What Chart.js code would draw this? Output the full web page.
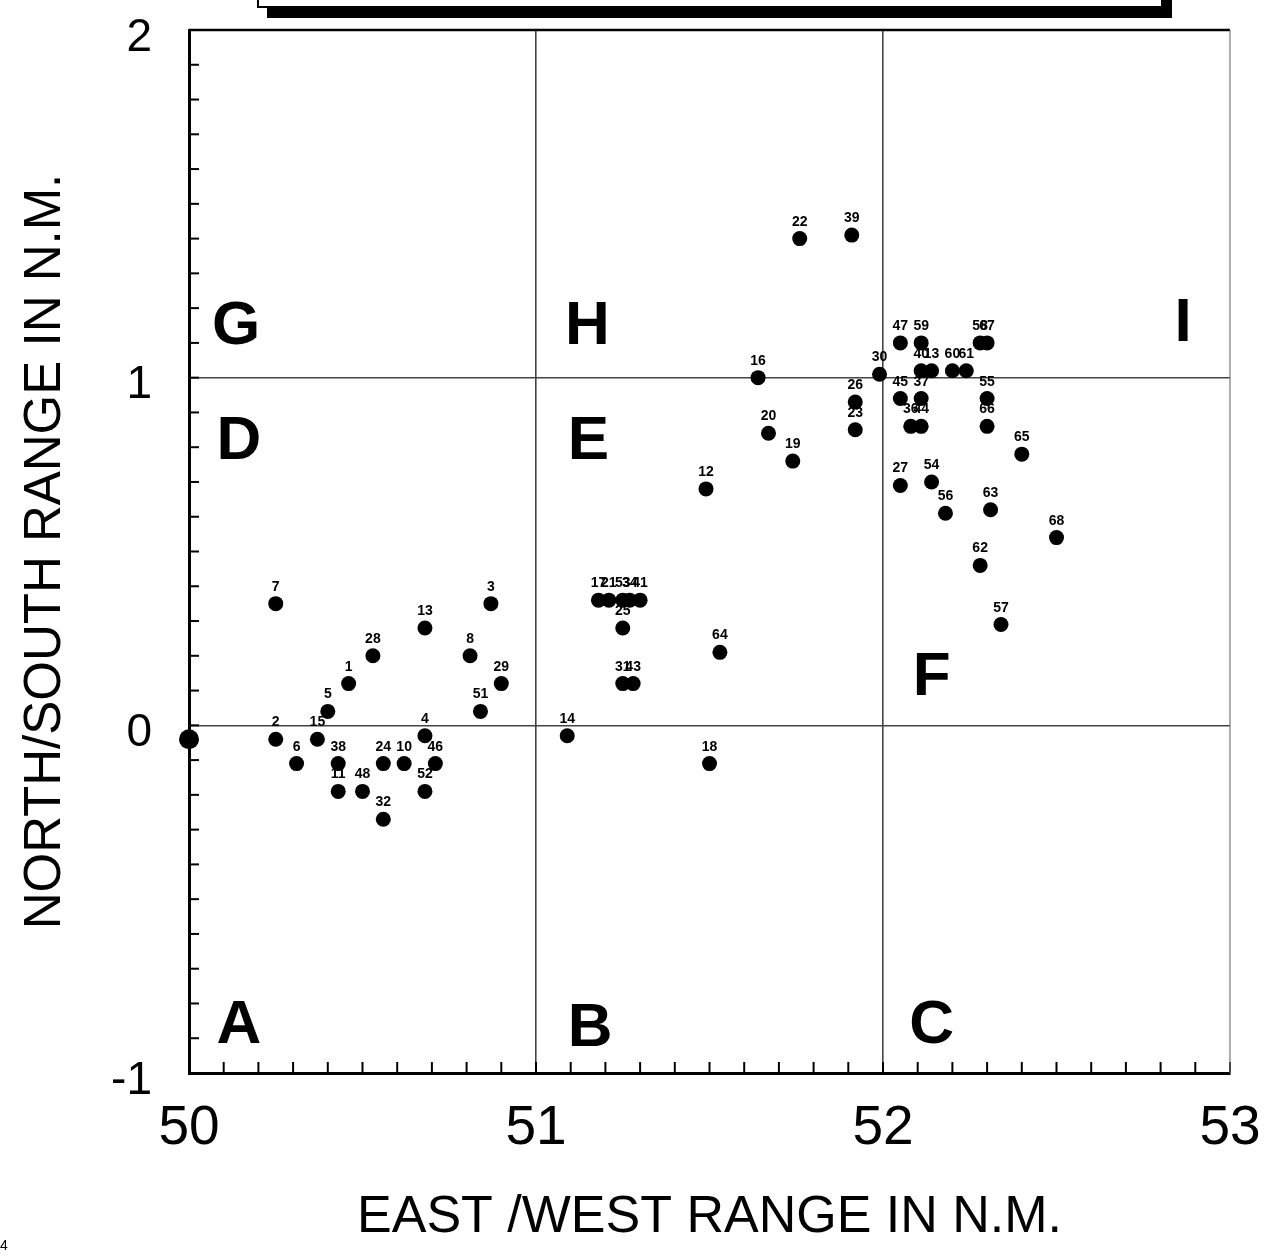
<!DOCTYPE html>
<html>
<head>
<meta charset="utf-8">
<script src="https://cdn.jsdelivr.net/npm/chart.js@4/dist/chart.umd.min.js"></script>
<style>
html,body{margin:0;padding:0;background:#fff;}
canvas{display:block;}
</style>
</head>
<body>
<canvas id="c" width="1272" height="1257"></canvas>
<script>
// ---- data ----
const runLabels = ['7','2','6','15','5','1','28','38','11','48','24','32','10','13','4','52','46','8','51','3','29','14','18','17','21','53','34','41','25','31','43','64','12','22','39','16','30','26','23','20','19','47','59','40','13','60','61','58','67','45','37','36','44','55','66','65','27','54','56','63','68','62','57'];
const eastWest = [50.25,50.25,50.31,50.37,50.40,50.46,50.53,50.43,50.43,50.50,50.56,50.56,50.62,50.68,50.68,50.68,50.71,50.81,50.84,50.87,50.90,51.09,51.50,51.18,51.21,51.25,51.27,51.30,51.25,51.25,51.28,51.53,51.49,51.76,51.91,51.64,51.99,51.92,51.92,51.67,51.74,52.05,52.11,52.11,52.14,52.20,52.24,52.28,52.30,52.05,52.11,52.08,52.11,52.30,52.30,52.40,52.05,52.14,52.18,52.31,52.50,52.28,52.34];
const northSouth = [0.35,-0.04,-0.11,-0.04,0.04,0.12,0.20,-0.11,-0.19,-0.19,-0.11,-0.27,-0.11,0.28,-0.03,-0.19,-0.11,0.20,0.04,0.35,0.12,-0.03,-0.11,0.36,0.36,0.36,0.36,0.36,0.28,0.12,0.12,0.21,0.68,1.40,1.41,1.00,1.01,0.93,0.85,0.84,0.76,1.10,1.10,1.02,1.02,1.02,1.02,1.10,1.10,0.94,0.94,0.86,0.86,0.94,0.86,0.78,0.69,0.70,0.61,0.62,0.54,0.46,0.29];
const refEastWest = [50.0];
const refNorthSouth = [-0.04];
const regionLetters = ['G','H','I','D','E','F','A','B','C'];
const regionX = [50.136,51.148,52.865,50.144,51.151,52.14,50.144,51.156,52.14];
const regionY = [1.16,1.16,1.17,0.83,0.83,0.15,-0.85,-0.86,-0.85];
const xTickLabels = ['50','51','52','53'];
const yTickLabels = ['-1','0','1','2'];
const xTitle = 'EAST /WEST RANGE IN N.M.';
const yTitle = 'NORTH/SOUTH RANGE IN N.M.';

const runPoints = eastWest.map((v,i)=>({x:v, y:northSouth[i]}));
const refPoints = refEastWest.map((v,i)=>({x:v, y:refNorthSouth[i]}));

const isInt = v => Math.abs(v - Math.round(v)) < 1e-6;
const FONT = "'Liberation Sans', Arial, sans-serif";

const decor = {
  id: 'decor',
  beforeDraw(chart){
    const ctx = chart.ctx;
    ctx.save();
    ctx.fillStyle = '#fff';
    ctx.fillRect(0,0,chart.width,chart.height);
    ctx.restore();
  },
  beforeDatasetsDraw(chart){
    const {ctx, chartArea:a, scales:{x,y}} = chart;
    ctx.save();
    // region letters
    ctx.fillStyle = '#000';
    ctx.font = "bold 62px " + FONT;
    ctx.textAlign = 'center';
    ctx.textBaseline = 'alphabetic';
    regionLetters.forEach((t,i)=>{
      ctx.fillText(t, x.getPixelForValue(regionX[i]), y.getPixelForValue(regionY[i]) + 22);
    });
    // inner tick marks
    ctx.strokeStyle = '#000';
    ctx.lineWidth = 2;
    x.ticks.forEach(tk=>{
      const px = x.getPixelForValue(tk.value);
      ctx.beginPath(); ctx.moveTo(px, a.bottom); ctx.lineTo(px, a.bottom - 11); ctx.stroke();
    });
    y.ticks.forEach(tk=>{
      const py = y.getPixelForValue(tk.value);
      ctx.beginPath(); ctx.moveTo(a.left, py); ctx.lineTo(a.left + 10, py); ctx.stroke();
    });
    // top and right frame
    ctx.lineWidth = 2.5;
    ctx.beginPath(); ctx.moveTo(a.left, a.top); ctx.lineTo(a.right, a.top); ctx.stroke();
    ctx.lineWidth = 1.2;
    ctx.strokeStyle = '#777';
    ctx.beginPath(); ctx.moveTo(a.right, a.top); ctx.lineTo(a.right, a.bottom); ctx.stroke();
    ctx.restore();
  },
  afterDatasetsDraw(chart){
    const {ctx, scales:{x,y}} = chart;
    ctx.save();
    ctx.fillStyle = '#000';
    ctx.font = "bold 14px " + FONT;
    ctx.textAlign = 'center';
    ctx.textBaseline = 'alphabetic';
    runPoints.forEach((p,i)=>{
      ctx.fillText(runLabels[i], x.getPixelForValue(p.x), y.getPixelForValue(p.y) - 13);
    });
    ctx.restore();
  },
  afterDraw(chart){
    const ctx = chart.ctx;
    ctx.save();
    // cropped title box at top of the page
    ctx.fillStyle = '#000';
    ctx.fillRect(267, 7, 905, 11);
    ctx.fillRect(1161, 0, 11, 18);
    ctx.strokeStyle = '#000';
    ctx.lineWidth = 2;
    ctx.beginPath(); ctx.moveTo(258, 0); ctx.lineTo(258, 7); ctx.lineTo(1162, 7); ctx.stroke();
    // page number fragment
    ctx.font = "14px " + FONT;
    ctx.textAlign = 'left';
    ctx.textBaseline = 'alphabetic';
    ctx.fillText('4', 0, 1250);
    ctx.restore();
  }
};

new Chart(document.getElementById('c'), {
  type: 'scatter',
  data: {
    datasets: [
      {
        label: 'runs',
        data: runPoints,
        backgroundColor: '#000',
        borderColor: '#000',
        pointRadius: 7.5,
        pointHoverRadius: 7.5,
        borderWidth: 0
      },
      {
        label: 'reference',
        data: refPoints,
        backgroundColor: '#000',
        borderColor: '#000',
        pointRadius: 10,
        pointHoverRadius: 10,
        borderWidth: 0,
        clip: false
      }
    ]
  },
  options: {
    responsive: false,
    animation: false,
    devicePixelRatio: 1,
    layout: { padding: { left: 0, top: 30, right: 42, bottom: 0 } },
    plugins: { legend: { display: false }, tooltip: { enabled: false } },
    scales: {
      x: {
        type: 'linear',
        min: 50, max: 53,
        afterFit(s){ s.height = 184; s.paddingLeft = 0; s.paddingRight = 0; },
        border: { display: true, color: '#000', width: 3 },
        grid: {
          drawTicks: false,
          lineWidth: 1.6,
          color: c => (c.tick && isInt(c.tick.value) && c.tick.value > 50.5 && c.tick.value < 52.5) ? '#444' : 'rgba(0,0,0,0)',
          borderDash: [3,1]
        },
        ticks: {
          stepSize: 0.1,
          autoSkip: false,
          maxRotation: 0,
          padding: 23,
          color: '#000',
          font: { family: FONT, size: 55 },
          callback: v => isInt(v) && xTickLabels.includes(String(Math.round(v))) ? String(Math.round(v)) : ''
        },
        title: {
          display: true,
          text: xTitle,
          color: '#000',
          font: { family: FONT, size: 52 },
          padding: { top: 0, bottom: 8 }
        }
      },
      y: {
        type: 'linear',
        min: -1, max: 2,
        afterFit(s){ s.width = 189; s.paddingTop = 0; s.paddingBottom = 0; },
        border: { display: true, color: '#000', width: 3 },
        grid: {
          drawTicks: false,
          lineWidth: 1.6,
          color: c => (c.tick && isInt(c.tick.value) && c.tick.value > -0.5 && c.tick.value < 1.5) ? '#444' : 'rgba(0,0,0,0)',
          borderDash: [3,1]
        },
        ticks: {
          stepSize: 0.1,
          autoSkip: false,
          padding: 37,
          labelOffset: 8,
          color: '#000',
          font: { family: FONT, size: 46 },
          callback: v => isInt(v) && yTickLabels.includes(String(Math.round(v))) ? String(Math.round(v)) : ''
        },
        title: {
          display: true,
          text: yTitle,
          color: '#000',
          font: { family: FONT, size: 51 },
          padding: { top: 15, bottom: 0 }
        }
      }
    }
  },
  plugins: [decor]
});
</script>
</body>
</html>
